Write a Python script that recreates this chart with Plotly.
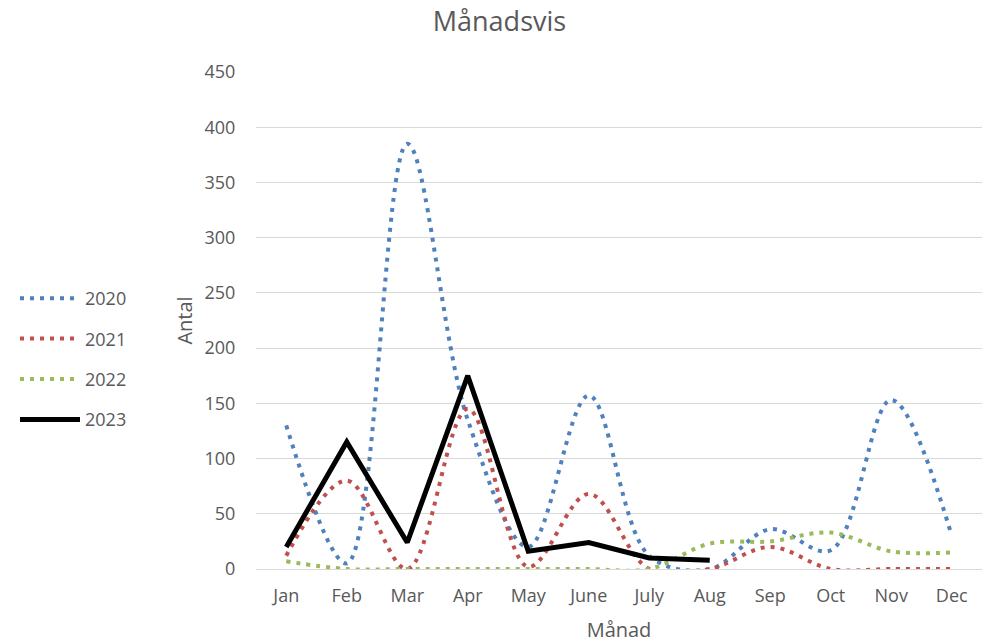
import plotly.graph_objects as go

months = ["Jan", "Feb", "Mar", "Apr", "May", "June", "July", "Aug", "Sep", "Oct", "Nov", "Dec"]
y2020 = [130, 5, 385, 135, 20, 157, 12, 0, 36, 17, 153, 30]
y2021 = [12, 80, 0, 145, 2, 68, 0, 0, 20, 0, 0, 0]
y2022 = [7, 0, 0, 0, 0, 0, 0, 23, 25, 33, 16, 15]
y2023 = [20, 115, 24, 175, 16, 24, 10, 8]
y_ticks = [0, 50, 100, 150, 200, 250, 300, 350, 400, 450]

FONT = "Open Sans"
GREY = "#595959"

fig = go.Figure()
series = [
    ("2020", y2020, "#4F81BD", 4, "4px,6px"),
    ("2021", y2021, "#C0504D", 4, "4px,6px"),
    ("2022", y2022, "#9BBB59", 4, "4px,6px"),
]
for name, vals, col, w, dash in series:
    fig.add_trace(go.Scatter(
        x=months, y=vals, name=name, mode="lines",
        line=dict(color=col, width=w, dash=dash, shape="spline", smoothing=1),
        legendgroup=name,
    ))
fig.add_trace(go.Scatter(
    x=months[:len(y2023)], y=y2023, name="2023", mode="lines",
    line=dict(color="black", width=5),
    legendgroup="2023",
))

fig.update_layout(
    width=993, height=643,
    margin=dict(l=256, r=11, t=72, b=74),
    paper_bgcolor="white", plot_bgcolor="white",
    font=dict(family=FONT, color=GREY, size=18),
    title=dict(text="Månadsvis", x=0.503, xanchor="center", y=1 - 22 / 643, yanchor="middle",
               font=dict(size=27, color=GREY, family=FONT)),
    legend=dict(xref="container", yref="container", x=15 / 993, y=1 - 359 / 643,
                xanchor="left", yanchor="middle", font=dict(size=18, color=GREY),
                tracegroupgap=14, itemwidth=60, bgcolor="rgba(0,0,0,0)"),
    xaxis=dict(
        categoryorder="array", categoryarray=months, range=[-0.5, 11.5],
        showgrid=False, showline=False, zeroline=False, automargin=False,
        ticks="outside", ticklen=10, tickcolor="rgba(0,0,0,0)",
        tickfont=dict(size=18, color=GREY),
        title=dict(text="Månad", font=dict(size=20, color=GREY), standoff=17),
    ),
    yaxis=dict(
        range=[0, 450], tickvals=y_ticks, showgrid=True, gridcolor="#D9D9D9", gridwidth=1,
        zeroline=True, zerolinecolor="#D9D9D9", zerolinewidth=1, showline=False,
        ticks="outside", ticklen=16, tickcolor="rgba(0,0,0,0)",
        tickfont=dict(size=18, color=GREY), automargin=False,
        title=dict(text="Antal", font=dict(size=20, color=GREY), standoff=6),
    ),
)

fig.write_html("out.html", config={"displayModeBar": False},
               post_script="document.body.style.margin='0';document.body.style.padding='0';")
